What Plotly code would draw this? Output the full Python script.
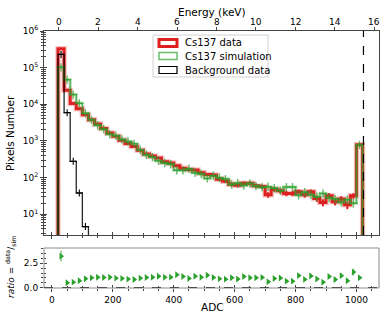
import math
import plotly.graph_objects as go

# ADC binning (20 ADC wide bins)
adc_edges = list(range(20, 1021, 20))
adc_centers = [e + 10 for e in adc_edges[:-1]]

cs137_data = [330000, 24000, 10500, 7500, 5200, 3800, 2900, 2200, 1650, 1350,
              1050, 850, 700, 560, 440, 390, 340, 270, 250, 210,
              180, 165, 160, 135, 122, 118, 90, 80, 66, 62,
              70, 70, 60, 57, 34, 48, 44, 37, 37, 41,
              34, 41, 27, 21, 32, 22, 26, 18, 32, 790]
cs137_sim = [102000, 47000, 18400, 10600, 5700, 3760, 2690, 2100, 1530, 1380,
             1100, 966, 833, 571, 419, 361, 288, 250, 231, 159,
             157, 174, 136, 125, 95, 112, 99, 91, 65, 70,
             61, 69, 59, 54, 56, 51, 44, 55, 55, 33,
             40, 34, 30, 37, 28, 26, 21, 25, 20, 780]
background = [230000, 5900, 277, 38, 4.6]
ratio_err = [0.55, 0.05, 0.05, 0.05, 0.06, 0.06, 0.06, 0.06, 0.06, 0.06,
             0.07, 0.07, 0.07, 0.08, 0.08, 0.08, 0.09, 0.09, 0.09, 0.1,
             0.1, 0.1, 0.1, 0.11, 0.12, 0.12, 0.12, 0.13, 0.13, 0.14,
             0.15, 0.15, 0.15, 0.16, 0.14, 0.17, 0.18, 0.16, 0.16, 0.22,
             0.18, 0.22, 0.2, 0.16, 0.24, 0.2, 0.27, 0.2, 0.35, 0.05]

ratio = [d / s for d, s in zip(cs137_data, cs137_sim)]

adc_ticks = [0, 200, 400, 600, 800, 1000]
energy_ticks = [0, 2, 4, 6, 8, 10, 12, 14, 16]
cut_adc = 1023

X_RANGE = [-26, 1074]
E_RANGE = [-0.75, 16.24]
Y_LOG_RANGE = [0.433, 6]
R_RANGE = [-0.03, 4.07]

RED = 'rgb(222,32,32)'
GREEN = 'rgba(44,160,44,0.7)'
GREEN_SOLID = 'rgb(44,160,44)'
FRAME = '#444'
FONT = 'DejaVu Sans'

# plot area in pixels: x 44..379, y 31..288
def px(x):
    return (x - 44) / 335

def py(y):
    return (288 - y) / 257


def step_xy(edges, vals, bottom=1e-3):
    xs, ys = [edges[0]], [bottom]
    for i, v in enumerate(vals):
        xs += [edges[i], edges[i + 1]]
        ys += [v, v]
    xs.append(edges[len(vals)])
    ys.append(bottom)
    return xs, ys


fig = go.Figure()

# Cs137 data (thick red, with light halo)
rx, ry = step_xy(adc_edges, cs137_data)
fig.add_trace(go.Scatter(x=rx, y=ry, mode='lines', line=dict(color='rgba(235,70,70,0.3)', width=5.5),
                         showlegend=False, hoverinfo='skip'))
fig.add_trace(go.Scatter(x=rx, y=ry, mode='lines', line=dict(color=RED, width=3), showlegend=False))
fig.add_trace(go.Scatter(x=adc_centers, y=cs137_data, mode='markers',
                         marker=dict(size=1, color='rgba(0,0,0,0)'),
                         error_y=dict(array=[math.sqrt(v) for v in cs137_data], thickness=2,
                                      width=0, color=RED),
                         showlegend=False))

# Cs137 simulation (green, semi transparent)
gx, gy = step_xy(adc_edges, cs137_sim)
fig.add_trace(go.Scatter(x=gx, y=gy, mode='lines', line=dict(color='rgba(44,160,44,0.25)', width=3.5),
                         showlegend=False, hoverinfo='skip'))
fig.add_trace(go.Scatter(x=gx, y=gy, mode='lines', line=dict(color=GREEN, width=1.5), showlegend=False))
fig.add_trace(go.Scatter(x=adc_centers, y=cs137_sim, mode='markers',
                         marker=dict(symbol='cross-thin', size=6, line=dict(width=1.4, color=GREEN)),
                         showlegend=False))

# Background data (black)
bx, by = step_xy(adc_edges[:len(background) + 1], background)
fig.add_trace(go.Scatter(x=bx, y=by, mode='lines', line=dict(color='rgba(0,0,0,0.85)', width=1.3),
                         showlegend=False))
fig.add_trace(go.Scatter(x=adc_centers[:len(background)], y=background, mode='markers',
                         marker=dict(symbol='cross-thin', size=5, line=dict(width=1.1, color='black')),
                         showlegend=False))

# ratio panel
fig.add_trace(go.Scatter(x=adc_centers, y=ratio, mode='markers', xaxis='x2', yaxis='y2',
                         marker=dict(symbol='triangle-right', size=6, color=GREEN_SOLID),
                         error_y=dict(array=ratio_err, thickness=1.5, width=0, color='rgba(44,160,44,0.6)'),
                         showlegend=False))

# dummy traces so the overlay axes (inner tick halves) get drawn
for xa, ya in [('x3', 'y'), ('x4', 'y4'), ('x5', 'y5')]:
    fig.add_trace(go.Scatter(x=[None], y=[None], xaxis=xa, yaxis=ya, showlegend=False))

tick_font = dict(family=FONT, size=9, color='black')
adc_minor = [v for v in range(-50, 1101, 50) if v not in adc_ticks]
log_minor = [m * 10 ** k for k in range(0, 6) for m in range(2, 10)]
log_major = [10 ** k for k in range(1, 7)]
log_text = ['10<sup>%d</sup>' % k for k in range(1, 7)]
main_dom = [py(235), 1]
ratio_dom = [0, py(248)]

common_x = dict(range=X_RANGE, tickmode='array', tickvals=adc_ticks, showgrid=False, zeroline=False,
                tickcolor=FRAME, tickfont=tick_font, automargin=False)

fig.update_layout(
    width=390, height=323,
    margin=dict(l=44, r=11, t=31, b=35),
    paper_bgcolor='white', plot_bgcolor='white',
    font=dict(family=FONT, size=10, color='black'),
    showlegend=False,
    xaxis=dict(**common_x, domain=[0, 1], anchor='y', showticklabels=False, ticks='outside', ticklen=3,
               minor=dict(tickvals=adc_minor, ticks='outside', ticklen=2, tickcolor=FRAME),
               showline=True, mirror=True, linecolor=FRAME, linewidth=1),
    xaxis4=dict(**common_x, overlaying='x', anchor='y4', showticklabels=False, ticks='inside', ticklen=3,
                minor=dict(tickvals=adc_minor, ticks='inside', ticklen=2, tickcolor=FRAME)),
    xaxis3=dict(range=E_RANGE, overlaying='x', side='top', anchor='y', tickmode='array',
                tickvals=energy_ticks, ticks='outside', ticklen=3, tickcolor=FRAME,
                showticklabels=False, showgrid=False, zeroline=False, automargin=False),
    yaxis=dict(domain=main_dom, anchor='x', type='log', range=Y_LOG_RANGE, tickmode='array',
               tickvals=log_major, ticktext=log_text, ticks='outside', ticklen=3, tickcolor=FRAME,
               tickfont=tick_font, showgrid=False, zeroline=False, automargin=False,
               minor=dict(tickvals=log_minor, ticks='outside', ticklen=2, tickcolor=FRAME),
               showline=True, mirror=True, linecolor=FRAME, linewidth=1),
    yaxis4=dict(overlaying='y', anchor='x4', type='log', range=Y_LOG_RANGE, tickmode='array',
                tickvals=log_major, ticks='inside', ticklen=3, tickcolor=FRAME, showticklabels=False,
                showgrid=False, zeroline=False, automargin=False,
                minor=dict(tickvals=log_minor, ticks='inside', ticklen=2, tickcolor=FRAME)),
    xaxis2=dict(**common_x, domain=[0, 1], anchor='y2', ticks='outside', ticklen=3,
                minor=dict(tickvals=adc_minor, ticks='outside', ticklen=2, tickcolor=FRAME)),
    xaxis5=dict(**common_x, overlaying='x2', anchor='y5', showticklabels=False, ticks='inside', ticklen=3,
                minor=dict(tickvals=adc_minor, ticks='inside', ticklen=2, tickcolor=FRAME)),
    yaxis2=dict(domain=ratio_dom, anchor='x2', range=R_RANGE, tickmode='array', tickvals=[0, 2.5],
                ticktext=['0.0', '2.5'], ticks='outside', ticklen=3, tickcolor=FRAME, tickfont=tick_font,
                showgrid=False, zeroline=False, automargin=False,
                minor=dict(tickvals=[0.5, 1, 1.5, 2, 3, 3.5, 4], ticks='outside', ticklen=2, tickcolor=FRAME)),
    yaxis5=dict(overlaying='y2', anchor='x5', range=R_RANGE, tickmode='array', tickvals=[0, 2.5],
                ticks='inside', ticklen=3, tickcolor=FRAME, showticklabels=False, showgrid=False,
                zeroline=False, automargin=False,
                minor=dict(tickvals=[0.5, 1, 1.5, 2, 3, 3.5, 4], ticks='inside', ticklen=2, tickcolor=FRAME)),
)

shapes = [
    # cut line at the end of the ADC range
    dict(type='line', xref='x', yref='y domain', x0=cut_adc, x1=cut_adc, y0=0, y1=1,
         line=dict(color='black', width=1.2, dash='dash')),
    # ratio frame (grey), dashed reference line at 0
    dict(type='rect', xref='x2 domain', yref='y2 domain', x0=0, x1=1, y0=0, y1=1,
         line=dict(color='#888', width=1)),
    dict(type='line', xref='x2 domain', yref='y2', x0=0, x1=1, y0=0, y1=0,
         line=dict(color='#333', width=1, dash='dash')),
    # legend frame
    dict(type='rect', xref='paper', yref='paper', x0=px(153), x1=px(268), y0=py(77), y1=py(35),
         line=dict(color='#d0d0d0', width=1), fillcolor='rgba(255,255,255,0.85)'),
]

legend_rows = [('Cs137 data', RED, 3, 43), ('Cs137 simulation', GREEN, 1.5, 56),
               ('Background data', 'black', 1.2, 70)]
annotations = []
for label, col, w, yc in legend_rows:
    shapes.append(dict(type='rect', xref='paper', yref='paper', x0=px(159), x1=px(177),
                       y0=py(yc + 3.5), y1=py(yc - 3.5), line=dict(color=col, width=w)))
    annotations.append(dict(text=label, xref='paper', yref='paper', x=px(183), y=py(yc),
                            xanchor='left', yanchor='middle', showarrow=False,
                            font=dict(family=FONT, size=10, color='black')))

# energy tick labels on the top axis
for e in energy_ticks:
    annotations.append(dict(text=str(e), xref='x3', yref='paper', x=e, y=py(22), showarrow=False,
                            xanchor='center', yanchor='middle', font=tick_font))

annotations += [
    dict(text='Energy (keV)', xref='paper', yref='paper', x=px(212), y=py(12), showarrow=False,
         xanchor='center', yanchor='middle', font=dict(family=FONT, size=10.5)),
    dict(text='ADC', xref='paper', yref='paper', x=px(212), y=py(307), showarrow=False,
         xanchor='center', yanchor='middle', font=dict(family=FONT, size=10.5)),
    dict(text='Pixels Number', xref='paper', yref='paper', x=px(10), y=py(133), showarrow=False,
         textangle=-90, xanchor='center', yanchor='middle', font=dict(family=FONT, size=10.5)),
    dict(text='<i>ratio</i> = <sup>data</sup>/<sub>sim</sub>', xref='paper', yref='paper', x=px(10),
         y=py(267), showarrow=False, textangle=-90, xanchor='center', yanchor='middle',
         font=dict(family=FONT, size=9)),
]

fig.update_layout(shapes=shapes, annotations=annotations)

# the page body has an 8px default margin; remove it so the figure sits at the window origin
fig.write_html("out.html", config={'displayModeBar': False},
               post_script="document.body.style.margin='0';")
